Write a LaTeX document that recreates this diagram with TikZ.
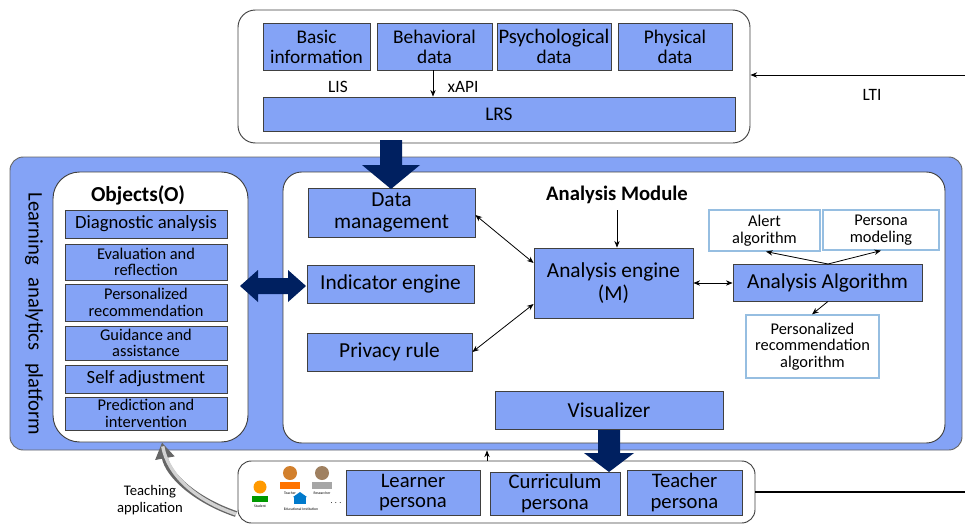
\documentclass[tikz,border=0pt]{standalone}
\usepackage{fontspec}
\setmainfont{Carlito}
\usetikzlibrary{fit,arrows.meta}
\definecolor{fillblue}{RGB}{132,163,246}
\definecolor{navy}{RGB}{0,32,96}
\definecolor{lightedge}{RGB}{150,190,225}
\begin{document}
\begin{tikzpicture}[x=0.75pt,y=-0.75pt,
 box/.style={draw=black!75, fill=fillblue, inner sep=0pt, line width=0.6pt},
 wbox/.style={draw=lightedge, fill=white, inner sep=0pt, line width=0.9pt},
 frame/.style={draw=black!75, fill=white, rounded corners=13pt, line width=0.7pt, inner sep=0pt},
 conn/.style={-{Stealth[length=5pt,width=4pt]}, line width=0.6pt},
 dconn/.style={{Stealth[length=5pt,width=4pt]}-{Stealth[length=5pt,width=4pt]}, line width=0.6pt},
 bigarrow/.style={fill=navy, draw=none},
 tx/.style={inner sep=0pt, align=center},
 fT/.style={tx, font=\fontsize{14.5}{15}\selectfont},
 fA/.style={tx, font=\fontsize{14}{15}\selectfont},
 fB/.style={tx, font=\fontsize{12.3}{12.5}\selectfont},
 fC/.style={tx, font=\fontsize{16}{17}\selectfont},
 fP/.style={tx, font=\fontsize{15.5}{15.5}\selectfont},
 lbl/.style={inner sep=0pt},
]
\useasboundingbox (0,0) rectangle (965,525);

% ---------- top: data sources ----------
\node[frame, fit={(238,10) (750,143)}] (top) {};
\node[box, fit={(263,23) (370,70)}, label={[fT]center:Basic\\information}] (basic) {};
\node[box, fit={(377,23) (492,70)}, label={[fT]center:Behavioral\\data}] (behav) {};
\node[box, fit={(497,23) (611,70)}, label={[fT]center:{{\fontsize{15.5}{15}\selectfont Psychological}\\data}}] (psych) {};
\node[box, fit={(618,23) (732,70)}, label={[fT]center:Physical\\data}] (phys) {};
\node[box, fit={(263,97) (735,131)}, label={[fT]center:LRS}] (lrs) {};
\node[lbl, font=\fontsize{13}{13}\selectfont] (lis) at (338,87) {LIS};
\node[lbl, font=\fontsize{13}{13}\selectfont] (xapi) at (463,87) {xAPI};
\draw[conn] (behav.south -| 433,0) -- (lrs.north -| 433,0);

\coordinate (ltistart) at (965,75);
\draw[conn] (ltistart) -- (top.east |- ltistart);
\node[lbl, font=\fontsize{13}{13}\selectfont] (lti) at (872,95) {LTI};

% ---------- platform ----------
\node[draw=black!60, fill=fillblue, rounded corners=10pt, line width=0.7pt, inner sep=0pt, fit={(10,157) (962,450)}] (plat) {};
\node[lbl, rotate=-90, font=\fontsize{15.5}{16}\selectfont] (platlbl) at (34,314) {Learning\hspace{0.6em}analytics\hspace{0.6em}platform};

% objects
\node[frame, rounded corners=20pt, fit={(53,172) (248,442)}] (objs) {};
\node[lbl, font=\bfseries\fontsize{16}{16}\selectfont] (objt) at (138,195) {Objects(O)};
\node[box, fit={(65,210) (227,238)}, label={[fA]center:Diagnostic analysis}] (o1) {};
\node[box, fit={(65,244) (227,280)}, label={[fB]center:Evaluation and\\reflection}] (o2) {};
\node[box, fit={(65,284) (227,321)}, label={[fB]center:Personalized\\recommendation}] (o3) {};
\node[box, fit={(65,326) (227,360)}, label={[fB]center:Guidance and\\assistance}] (o4) {};
\node[box, fit={(65,365) (227,393)}, label={[fA]center:Self adjustment}] (o5) {};
\node[box, fit={(65,397) (227,430)}, label={[fB]center:Prediction and\\intervention}] (o6) {};

% analysis module
\node[frame, rounded corners=14pt, fit={(283,172) (945,443)}] (mod) {};
\node[box, fit={(308,188) (475,237)}, label={[fC]center:Data\\management}] (dm) {};
\node[box, fit={(307,265) (474,303)}, label={[fC]center:Indicator engine}] (ie) {};
\node[box, fit={(307,333) (472,371)}, label={[fC]center:Privacy rule}] (pr) {};
\node[lbl, font=\bfseries\fontsize{15.5}{16}\selectfont] (modt) at (617,195) {Analysis Module};
\node[box, fit={(534,248) (693,318)}, label={[fC]center:Analysis engine\\(M)}] (ae) {};
\node[box, fit={(733,264) (922,301)}, label={[tx, font=\fontsize{16}{16}\selectfont]center:Analysis Algorithm}] (aa) {};
\node[wbox, fit={(709,210) (820,251)}, label={[fB]center:Alert\\algorithm}] (alert) {};
\node[wbox, fit={(823,210) (939,250)}, label={[fB]center:Persona\\modeling}] (pm) {};
\node[wbox, fit={(746,315) (879,378)}, label={[fB]center:Personalized\\recommendation\\algorithm}] (pra) {};
\node[box, fit={(495,391) (723,429)}, label={[fC]center:Visualizer}] (vis) {};

\draw[conn] (modt.south |- 0,210) -- (ae.north -| modt.south);
\draw[dconn] (dm.east |- 0,215) -- (ae.west |- 0,263);
\draw[dconn] (pr.east |- 0,352) -- (ae.west |- 0,304);
\draw[dconn] (ae.east |- 0,283) -- (aa.west |- 0,283);
\coordinate (aatop) at (828,264);
\draw[conn] (aatop) -- (alert.south -| 766,0);
\draw[conn] (aatop) -- (pm.south -| 881,0);
\draw[conn] (aa.south -| 828,0) -- (pra.north -| 812,0);

% ---------- bottom: personas ----------
\node[frame, rounded corners=10pt, fit={(238,461) (755,523)}] (bot) {};
% big arrow visualizer -> personas
\fill[bigarrow] (598,430) -- (620,430) -- (620,453) -- (634,453) -- (609,472) -- (584,453) -- (598,453) -- cycle;
\node[box, fit={(346,470) (480,515)}, label={[fP]center:Learner\\persona}] (lp) {};
\node[box, fit={(490,472) (620,515)}, label={[fP]center:Curriculum\\persona}] (cp) {};
\node[box, fit={(627,470) (742,515)}, label={[fP]center:Teacher\\persona}] (tp) {};
\draw[conn] (bot.north -| 487,0) -- (plat.south -| 487,0);
\coordinate (botright) at (965,492);
\draw[line width=0.8pt] (bot.east |- botright) -- (botright);

% big arrow from top to data management
\fill[bigarrow] (380,140) -- (402,140) -- (402,165) -- (420,165) -- (391,189) -- (362,165) -- (380,165) -- cycle;
% double arrow objects <-> indicator engine
\fill[bigarrow] (240,286) -- (258,270) -- (258,278) -- (288,278) -- (288,270) -- (306,286) -- (288,302) -- (288,294) -- (258,294) -- (258,302) -- cycle;

% icons
\fill[orange!80!yellow] (260,487) circle (6.5);
\fill[green!60!black] (252,496) rectangle (268,502);
\fill[brown!70!orange] (290,473) circle (7);
\fill[orange!90!red] (280,482) rectangle (300,489);
\fill[brown!50!gray] (322,473) circle (7);
\fill[gray!70] (312,482) rectangle (332,489);
\fill[blue!40!cyan!80!black] (293,497) -- (300,492) -- (307,497) -- cycle;
\fill[blue!40!cyan!80!black] (294,497) rectangle (306,504);
\node[lbl, font=\fontsize{2.8}{3}\selectfont] (ist) at (260,506) {Student};
\node[lbl, font=\fontsize{2.8}{3}\selectfont] (ite) at (290,493) {Teacher};
\node[lbl, font=\fontsize{2.8}{3}\selectfont] (ire) at (322,493) {Researcher};
\node[lbl, font=\fontsize{2.8}{3}\selectfont] (ied) at (301,509) {Educational Institution};
\node[lbl, font=\fontsize{6}{6}\selectfont] (idots) at (336,503) {. . .};

% teaching application curved arrow
\node[lbl, font=\fontsize{11}{13}\selectfont, align=center] (teach) at (150,500) {Teaching\\application};
\coordinate (tastart) at (236,514);
\draw[black!60, line width=4.5pt, -{Triangle[length=12pt,width=14pt]}] (tastart) .. controls (195,500) and (168,475) .. (objs.south -| 162,0);
\draw[gray!35, line width=2.5pt, shorten >=3pt] (tastart) .. controls (195,500) and (168,475) .. (objs.south -| 162,0);
\end{tikzpicture}
\end{document}
